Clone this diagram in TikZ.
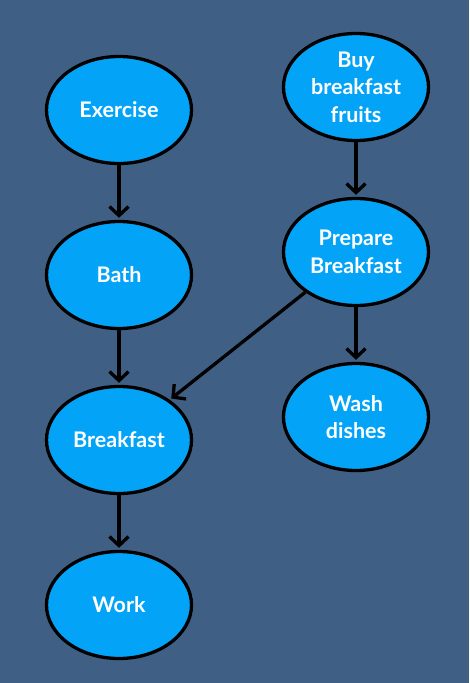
\documentclass[tikz,border=0pt]{standalone}
\usepackage{fontspec}
\setmainfont{Lato}
\usetikzlibrary{arrows.meta,shapes.geometric}
\definecolor{bgslate}{HTML}{3F5F84}
\definecolor{nodeblue}{HTML}{03A4F7}
\begin{document}
\begin{tikzpicture}[x=1pt,y=-1pt,
  task/.style={ellipse, draw=black, line width=3.3pt, fill=nodeblue,
    minimum width=145pt, minimum height=107pt, inner sep=0pt,
    text=white, font=\fontsize{21.5}{27.5}\selectfont\bfseries, align=center},
  link/.style={draw=black, line width=3.3pt,
    -{Straight Barb[length=9pt,width=19pt,line width=3.3pt]}, shorten >=2pt}]
  \fill[bgslate] (0,0) rectangle (469,683);
  \useasboundingbox (0,0) rectangle (469,683);
  \node[task] (exercise) at (119,110) {Exercise};
  \node[task] (bath) at (119,275) {Bath};
  \node[task] (breakfast) at (119,440) {Breakfast};
  \node[task] (work) at (119,605) {Work};
  \node[task] (fruits) at (356,87) {Buy\\breakfast\\fruits};
  \node[task] (prepare) at (356,252) {Prepare\\Breakfast};
  \node[task] (dishes) at (356,417) {Wash\\dishes};
  \draw[link] (exercise) -- (bath);
  \draw[link] (bath) -- (breakfast);
  \draw[link] (breakfast) -- (work);
  \draw[link] (fruits) -- (prepare);
  \draw[link] (prepare) -- (dishes);
  \draw[link] (prepare) -- (breakfast);
\end{tikzpicture}
\end{document}
